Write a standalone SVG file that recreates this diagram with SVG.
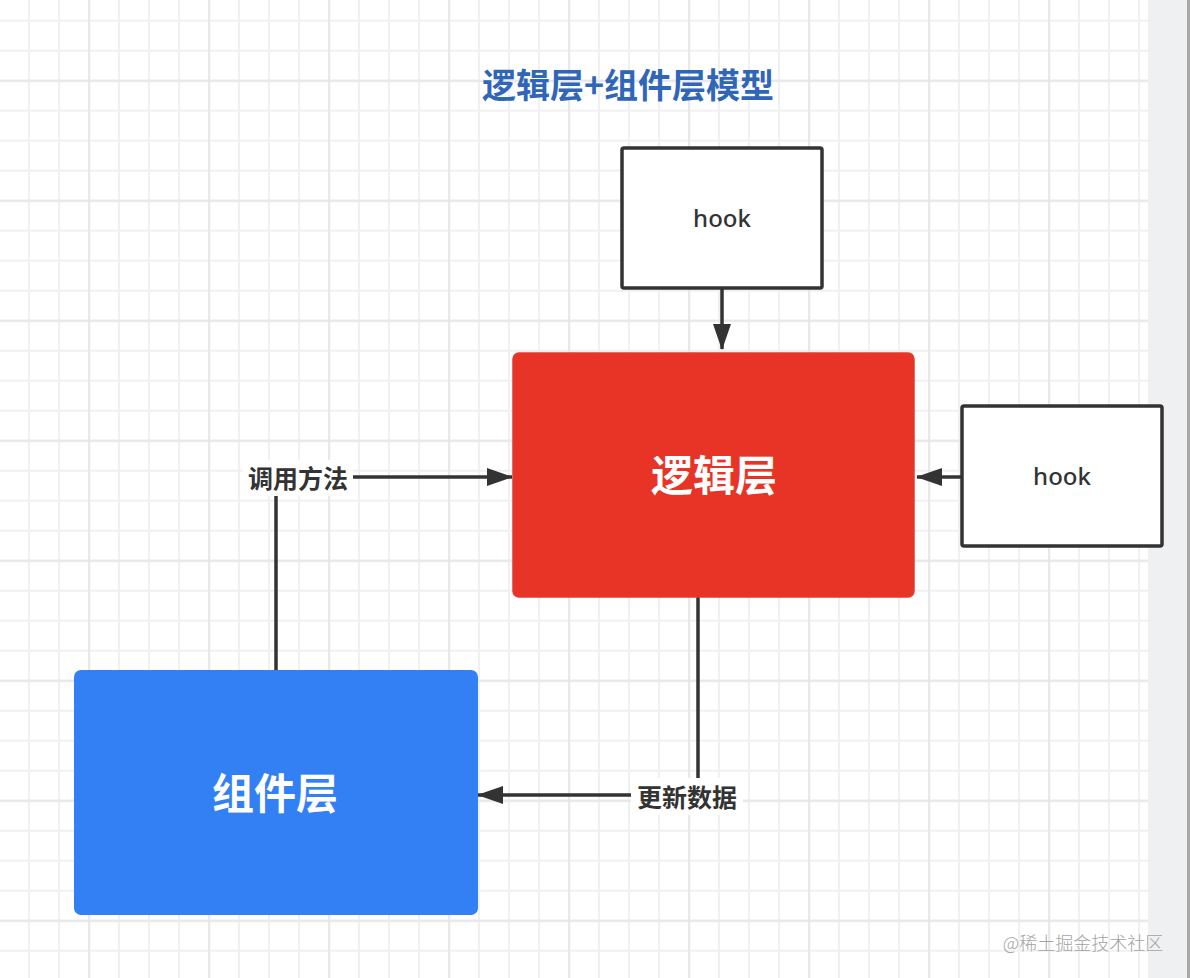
<svg xmlns="http://www.w3.org/2000/svg" width="1190" height="978" viewBox="0 0 1190 978">
<defs>
<style>
.g{stroke:#f0f0f0;stroke-width:2}
.gd{stroke:#e8e8e8;stroke-width:2.5}
.hook{fill:#fff;stroke:#333;stroke-width:3.5}
.ht{font-family:"Noto Sans","Noto Sans CJK SC",sans-serif;font-size:24px;font-weight:500;fill:#333;text-anchor:middle}
.big{font-family:"Noto Sans CJK SC",sans-serif;font-size:42px;font-weight:700;fill:#fff;text-anchor:middle;dominant-baseline:central}
.lbl{font-family:"Noto Sans CJK SC",sans-serif;font-size:25px;font-weight:700;fill:#333;text-anchor:middle;dominant-baseline:central}
.conn{fill:none;stroke:#333;stroke-width:3.5}
</style>
<marker id="arr" viewBox="0 0 26 18" refX="25" refY="9" markerWidth="26" markerHeight="18" markerUnits="userSpaceOnUse" orient="auto">
<path d="M0,0 L26,9 L0,18 z" fill="#333"/>
</marker>
<pattern id="grid" x="28" y="19.7" width="30" height="30" patternUnits="userSpaceOnUse">
<path d="M1,0 V30 M0,1 H30" class="g"/>
</pattern>
<pattern id="gridd" x="88" y="79.7" width="120" height="120" patternUnits="userSpaceOnUse">
<path d="M1,0 V120 M0,1 H120" class="gd"/>
</pattern>
</defs>
<rect width="1190" height="978" fill="#fff"/>
<rect width="1148" height="978" fill="url(#grid)"/>
<rect width="1148" height="978" fill="url(#gridd)"/>
<rect x="1148" y="0" width="42" height="978" fill="#eff0f2"/>
<rect x="1187" y="0" width="3" height="978" fill="#a8a8a8"/>

<text x="628" y="83" font-family="Noto Sans CJK SC, sans-serif" font-size="34" font-weight="700" fill="#2f66b8" text-anchor="middle" dominant-baseline="central">逻辑层+组件层模型</text>

<g id="connectors">
<path class="conn" d="M722,289 L722,349" marker-end="url(#arr)"/>
<path class="conn" d="M961,477 L917,477" marker-end="url(#arr)"/>
<path class="conn" d="M276,670 L276,477 L512,477" marker-end="url(#arr)"/>
<path class="conn" d="M698,597 L698,795 L478,795" marker-end="url(#arr)"/>
<rect x="243" y="460" width="110" height="36" fill="#fff"/>
<text class="lbl" x="298" y="477">调用方法</text>
<rect x="631" y="778" width="112" height="37" fill="#fff"/>
<text class="lbl" x="687" y="796">更新数据</text>
</g>

<g id="hook1">
<rect class="hook" x="622" y="148" width="200" height="140" rx="2"/>
<text class="ht" x="722" y="227">hook</text>
</g>
<g id="hook2">
<rect class="hook" x="962" y="406" width="200" height="140" rx="2"/>
<text class="ht" x="1062" y="485">hook</text>
</g>
<g id="logic">
<rect x="513" y="353" width="401" height="244" rx="6" fill="#e83426" stroke="#e5392c" stroke-width="1.5"/>
<text class="big" x="714" y="472">逻辑层</text>
</g>
<g id="component">
<rect x="74" y="670" width="404" height="245" rx="7" fill="#3380f5"/>
<text class="big" x="275" y="790">组件层</text>
</g>

<text x="1083" y="942" font-family="Noto Sans CJK SC, sans-serif" font-size="18" font-weight="300" fill="#a3a3a3" text-anchor="middle" dominant-baseline="central">@稀土掘金技术社区</text>
</svg>
